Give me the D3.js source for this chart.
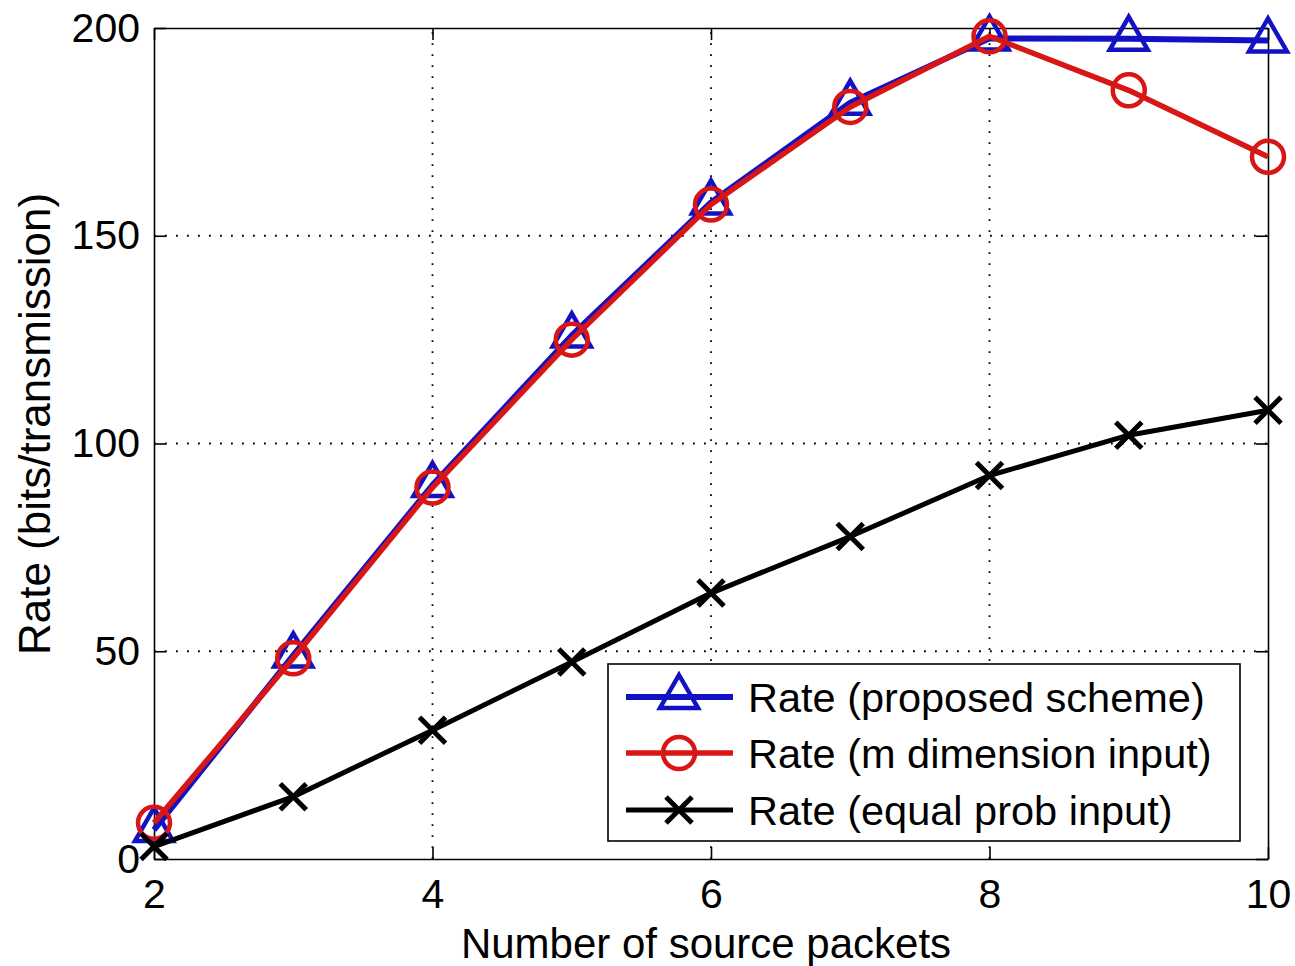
<!DOCTYPE html>
<html>
<head>
<meta charset="utf-8">
<script src="https://cdn.jsdelivr.net/npm/d3@7"></script>
<style>
  body { margin: 0; background: #fff; }
  text { font-family: "Liberation Sans", Arial, sans-serif; fill: #000; }
</style>
</head>
<body>
<svg id="chart" width="1295" height="966"></svg>
<script>
// data
var packets = [2, 3, 4, 5, 6, 7, 8, 9, 10]
var rateProposed = [7, 49, 90, 126, 158, 182, 197.5, 197.4, 197]
var rateMDim = [8.7, 48.3, 89.4, 125, 157.5, 181, 198, 185, 169]
var rateEqual = [3, 15, 31, 47.4, 64, 77.6, 92.3, 102, 108]
var xTicks = [2, 4, 6, 8, 10]
var yTicks = [0, 50, 100, 150, 200]
var legendLabels = ['Rate (proposed scheme)', 'Rate (m dimension input)', 'Rate (equal prob input)']

var svg = d3.select('#chart')
var plotL = 154, plotT = 28, plotR = 1268, plotB = 859

var x = d3.scaleLinear().domain([2, 10]).range([plotL, plotR])
var y = d3.scaleLinear().domain([0, 200]).range([plotB, plotT])

// grid
var grid = svg.append('g').attr('stroke', '#000').attr('stroke-width', 1.8)
  .attr('stroke-dasharray', '1.8,9.2')
grid.selectAll('.gx').data(xTicks.slice(1, -1)).enter().append('line')
  .attr('x1', d => x(d)).attr('x2', d => x(d)).attr('y1', plotB).attr('y2', plotT)
grid.selectAll('.gy').data(yTicks.slice(1, -1)).enter().append('line')
  .attr('y1', d => y(d)).attr('y2', d => y(d)).attr('x1', plotL).attr('x2', plotR)

// axes (box with inner ticks)
var tickLen = 12
var xAxisB = d3.axisBottom(x).tickValues(xTicks).tickSizeInner(-tickLen).tickSizeOuter(0).tickPadding(20)
var xAxisT = d3.axisTop(x).tickValues(xTicks).tickSizeInner(-tickLen).tickSizeOuter(0).tickFormat('')
var yAxisL = d3.axisLeft(y).tickValues(yTicks).tickSizeInner(-tickLen).tickSizeOuter(0).tickPadding(14)
var yAxisR = d3.axisRight(y).tickValues(yTicks).tickSizeInner(-tickLen).tickSizeOuter(0).tickFormat('')

function styleAxis (g) {
  g.select('.domain').attr('stroke', '#000').attr('stroke-width', 1.6)
  g.selectAll('.tick line').attr('stroke', '#000').attr('stroke-width', 1.6)
  g.selectAll('.tick text').style('font-size', '41px').attr('fill', '#000')
    .style('font-family', '"Liberation Sans", Arial, sans-serif')
}
svg.append('g').attr('transform', 'translate(0,' + plotB + ')').call(xAxisB).call(styleAxis)
svg.append('g').attr('transform', 'translate(0,' + plotT + ')').call(xAxisT).call(styleAxis)
svg.append('g').attr('transform', 'translate(' + plotL + ',0)').call(yAxisL).call(styleAxis)
svg.append('g').attr('transform', 'translate(' + plotR + ',0)').call(yAxisR).call(styleAxis)

// series
var line = d3.line().x(d => x(d[0])).y(d => y(d[1]))
var series = [
  { vals: rateProposed, color: '#1212c4', width: 6, marker: 'tri' },
  { vals: rateMDim, color: '#d81616', width: 5.5, marker: 'circ' },
  { vals: rateEqual, color: '#000', width: 5, marker: 'x' }
]

function triPath (h, w) {
  return 'M0,' + (-2 * h / 3) + 'L' + (w / 2) + ',' + (h / 3) + 'L' + (-w / 2) + ',' + (h / 3) + 'Z'
}
function drawMarker (g, type, color) {
  if (type === 'tri') {
    g.append('path').attr('d', triPath(33, 38)).attr('fill', 'none')
      .attr('stroke', color).attr('stroke-width', 4.5).attr('stroke-linejoin', 'miter')
  } else if (type === 'circ') {
    g.append('circle').attr('r', 16).attr('fill', 'none')
      .attr('stroke', color).attr('stroke-width', 4.5)
  } else {
    g.append('path').attr('d', 'M-13,-13L13,13M-13,13L13,-13').attr('fill', 'none')
      .attr('stroke', color).attr('stroke-width', 5)
  }
}

series.forEach(function (s) {
  var pts = packets.map((p, i) => [p, s.vals[i]])
  svg.append('path').datum(pts).attr('d', line).attr('fill', 'none')
    .attr('stroke', s.color).attr('stroke-width', s.width).attr('stroke-linejoin', 'round')
  pts.forEach(function (p) {
    var g = svg.append('g').attr('transform', 'translate(' + x(p[0]) + ',' + y(p[1]) + ')')
    drawMarker(g, s.marker, s.color)
  })
})

// legend
var lg = svg.append('g')
lg.append('rect').attr('x', 608).attr('y', 664).attr('width', 632).attr('height', 177)
  .attr('fill', '#fff').attr('stroke', '#000').attr('stroke-width', 1.6)
var rowY = [697, 753, 810]
series.forEach(function (s, i) {
  lg.append('line').attr('x1', 626).attr('x2', 733).attr('y1', rowY[i]).attr('y2', rowY[i])
    .attr('stroke', s.color).attr('stroke-width', s.width)
  var g = lg.append('g').attr('transform', 'translate(679,' + rowY[i] + ')')
  drawMarker(g, s.marker, s.color)
  lg.append('text').attr('x', 748).attr('y', rowY[i]).attr('dy', '0.35em')
    .style('font-size', '41.5px').text(legendLabels[i])
})

// axis titles
svg.append('text').attr('x', 706).attr('y', 958).attr('text-anchor', 'middle')
  .style('font-size', '42px').text('Number of source packets')
svg.append('text').attr('transform', 'translate(50,424) rotate(-90)').attr('text-anchor', 'middle')
  .style('font-size', '44px').text('Rate (bits/transmission)')
</script>
</body>
</html>
